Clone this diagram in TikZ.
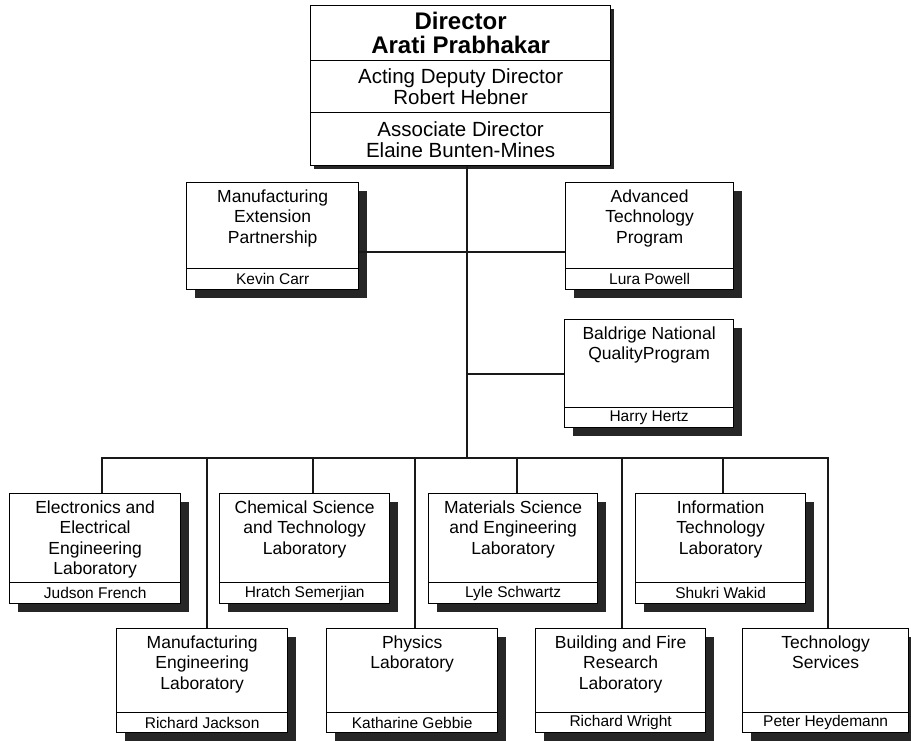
\documentclass[tikz,border=0pt]{standalone}
\usepackage{fontspec}
\setmainfont{Liberation Sans}
\usetikzlibrary{shadows}
\tikzset{
  conn/.style={line width=1.9pt, black!90},
  unitbox/.style={draw, line width=1.3pt, fill=white, anchor=north west, inner sep=0pt},
  shadowbig/.style={general shadow={fill=black!85, shadow xshift=8pt, shadow yshift=-8pt}},
  shadowsmall/.style={general shadow={fill=black!85, shadow xshift=3pt, shadow yshift=-3pt}},
  titletext/.style={anchor=north, align=center, inner sep=0pt, font=\fontsize{17.5}{20.5}\selectfont},
  namestrip/.style={draw, line width=1.2pt, fill=white, anchor=south, inner sep=0pt, font=\fontsize{15.5}{17}\selectfont},
  comp/.style={anchor=north, inner sep=0pt, align=center, minimum width=300pt},
  divider/.style={line width=1.3pt},
}
\newcommand\orgunit[8]{%
  \node[unitbox, shadowbig, minimum width=#4pt, minimum height=#5pt] (#1) at (#2,#3) {};
  \node[titletext] (#1-t) at ([yshift=-7.5pt]#1.north) {#6};
  \node[namestrip, minimum width=#4pt, minimum height=#8pt] (#1-n) at (#1.south) {#7};
}
\begin{document}
\begin{tikzpicture}[x=1pt, y=-1pt]
\useasboundingbox[fill=white] (0,0) rectangle (911,740);

% top box
\node[unitbox, shadowsmall, minimum width=300pt, minimum height=160pt] (topbox) at (310,5) {};
\node[comp, minimum height=55pt, font=\fontsize{24}{24.5}\selectfont\bfseries] (dir) at (topbox.north) {Director\\Arati Prabhakar};
\node[comp, minimum height=52pt, font=\fontsize{20.5}{20.5}\selectfont] (dep) at (dir.south) {Acting Deputy Director\\Robert Hebner};
\node[comp, minimum height=53pt, font=\fontsize{20.5}{20.5}\selectfont] (assoc) at (dep.south) {Associate Director\\Elaine Bunten-Mines};
\draw[divider] (dir.south west) -- (dir.south east);
\draw[divider] (dep.south west) -- (dep.south east);

% staff units
\orgunit{mep}{186}{182}{172}{107}{Manufacturing\\Extension\\Partnership}{Kevin Carr}{21}
\orgunit{atp}{565}{182}{168}{107}{Advanced\\Technology\\Program}{Lura Powell}{21}
\orgunit{bnqp}{564}{319}{169}{108}{Baldrige National\\QualityProgram}{Harry Hertz}{20}

% labs, upper row
\orgunit{eeel}{9}{493}{171}{110}{Electronics and\\Electrical\\Engineering\\Laboratory}{Judson French}{21}
\orgunit{cstl}{219}{493}{170}{110}{Chemical Science\\and Technology\\Laboratory}{Hratch Semerjian}{21}
\orgunit{msel}{428}{493}{169}{110}{Materials Science\\and Engineering\\Laboratory}{Lyle Schwartz}{21}
\orgunit{itl}{635}{493}{170}{110}{Information\\Technology\\Laboratory}{Shukri Wakid}{21}

% labs, lower row
\orgunit{mel}{116}{628}{171}{104}{Manufacturing\\Engineering\\Laboratory}{Richard Jackson}{20}
\orgunit{phys}{326}{628}{171}{104}{Physics\\Laboratory}{Katharine Gebbie}{20}
\orgunit{bfrl}{535}{628}{170}{104}{Building and Fire\\Research\\Laboratory}{Richard Wright}{20}
\orgunit{ts}{742}{628}{166}{104}{Technology\\Services}{Peter Heydemann}{20}

% connectors
\coordinate (busmid) at (467,458);
\coordinate (j1) at (467,252);
\draw[conn] (topbox.south -| busmid) -- (busmid);
\draw[conn] (j1 -| mep.east) -- (j1 -| atp.west);
\draw[conn] (bnqp.west -| busmid) -- (bnqp.west);

\coordinate (s1) at (102,458);
\coordinate (s2) at (207,458);
\coordinate (s3) at (313,458);
\coordinate (s4) at (415,458);
\coordinate (s5) at (517,458);
\coordinate (s6) at (622,458);
\coordinate (s7) at (723,458);
\coordinate (s8) at (828,458);
\draw[conn] (s1 |- eeel.north) -- (s1) -- (s8) -- (s8 |- ts.north);
\draw[conn] (s2) -- (s2 |- mel.north);
\draw[conn] (s3) -- (s3 |- cstl.north);
\draw[conn] (s4) -- (s4 |- phys.north);
\draw[conn] (s5) -- (s5 |- msel.north);
\draw[conn] (s6) -- (s6 |- bfrl.north);
\draw[conn] (s7) -- (s7 |- itl.north);
\end{tikzpicture}
\end{document}
